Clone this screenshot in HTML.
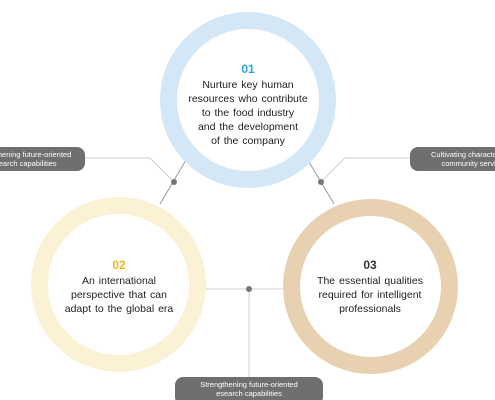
<!DOCTYPE html>
<html style="overflow:hidden"><head><meta charset="utf-8"><style>
body{margin:0;width:495px;height:400px;background:#fff;overflow:hidden;position:relative;font-family:"Liberation Sans",sans-serif}
#w{position:absolute;left:0;top:0;width:495px;height:400px;overflow:hidden}
.c{position:absolute;border-radius:50%;box-sizing:border-box;background:#fff}
.t{position:absolute;text-align:center;font-size:10.5px;line-height:14px;color:#222;word-spacing:1px}
.n{font-weight:bold;font-size:12px;display:block;margin-bottom:2px}
.b{position:absolute;background:#6f6f6f;color:#fff;font-size:7.5px;line-height:9px;text-align:center;box-sizing:border-box;padding-top:3px}
</style></head><body><div id="w">
<svg width="495" height="400" style="position:absolute;left:0;top:0">
<g stroke="#cfcfcf" stroke-width="1" fill="none">
<polyline points="85,158 150,158 174,182"/>
<polyline points="410,158 345,158 321,182"/>
<line x1="203" y1="289" x2="283" y2="289"/>
<line x1="249" y1="289" x2="249" y2="378"/>
</g>
<g stroke="#999" stroke-width="1">
<line x1="186" y1="160" x2="160" y2="204"/>
<line x1="309" y1="162" x2="334" y2="204"/>
</g>
<g fill="#777"><circle cx="174" cy="182" r="3"/><circle cx="321" cy="182" r="3"/><circle cx="249" cy="289" r="3"/></g>
</svg>
<div class="c" style="left:160px;top:12px;width:176px;height:176px;border:17px solid #d3e7f6"></div>
<div class="c" style="left:31px;top:197px;width:175px;height:175px;border:17px solid #fbf1d4"></div>
<div class="c" style="left:283px;top:199px;width:175px;height:175px;border:17px solid #e8d1b1"></div>
<div class="t" style="left:183px;top:62px;width:130px">
<span class="n" style="color:#2aa4da">01</span>Nurture key human<br>resources who contribute<br>to the food industry<br>and the development<br>of the company</div>
<div class="t" style="left:50px;top:258px;width:138px"><span class="n" style="color:#f2b620">02</span>An international<br>perspective that can<br>adapt to the global era</div>
<div class="t" style="left:295px;top:258px;width:150px"><span class="n" style="color:#333">03</span>The essential qualities<br>required for intelligent<br>professionals</div>
<div class="b" style="left:-40px;top:147px;width:125px;height:24px;border-radius:0 8px 8px 0">Strengthening future-oriented<br>research capabilities</div>
<div class="b" style="left:410px;top:147px;width:125px;height:24px;border-radius:8px 0 0 8px">Cultivating character and<br>community service</div>
<div class="b" style="left:175px;top:377px;width:148px;height:28px;border-radius:8px">Strengthening future-oriented<br>esearch capabilities</div>
</div></body></html>
